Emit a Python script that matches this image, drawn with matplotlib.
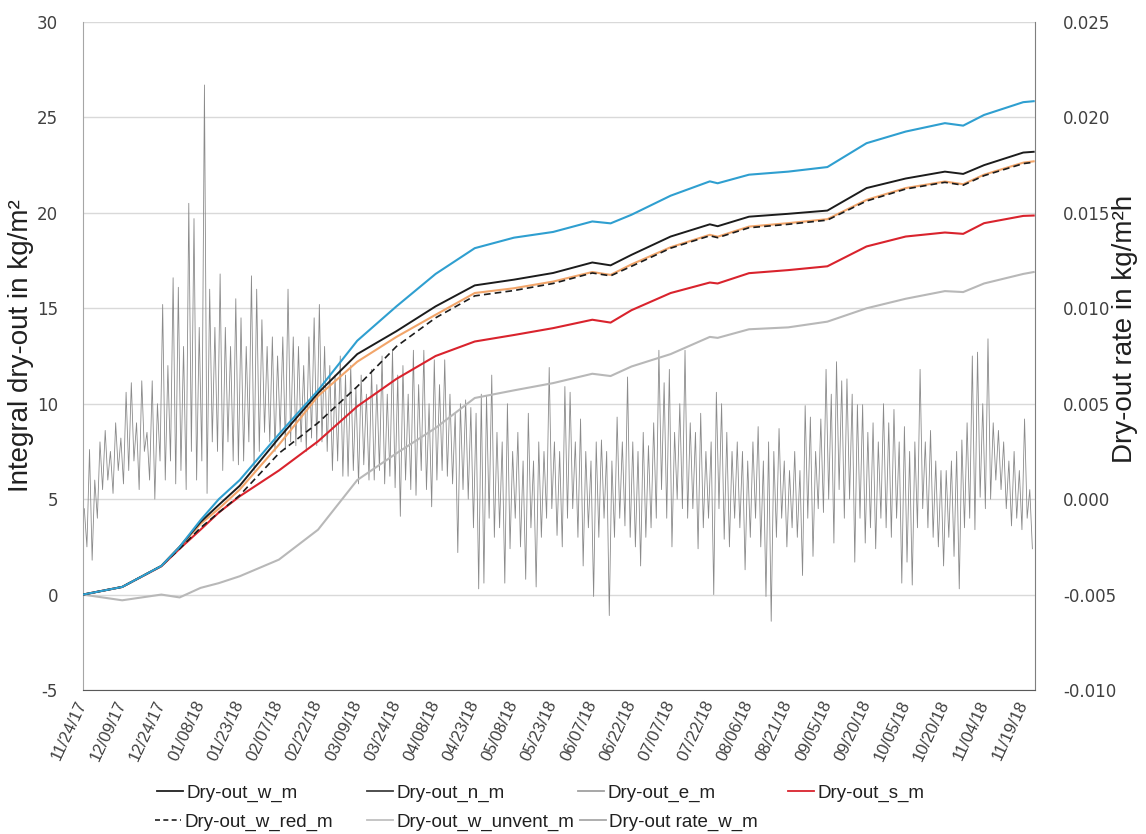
import matplotlib
matplotlib.use("Agg")
import matplotlib.pyplot as plt
import matplotlib.dates as mdates
from matplotlib.lines import Line2D
from datetime import datetime, timedelta

# ---------------------------------------------------------------- data
start = datetime(2017, 11, 24)
tick_labels = [(start + timedelta(days=15 * k)).strftime("%m/%d/%y") for k in range(25)]

# days since start for the integral dry-out curves
days = [0, 15, 30, 37, 45, 52, 60, 75, 90, 105, 120, 135, 150, 165, 180, 195,
        202, 210, 225, 240, 243, 255, 270, 285, 300, 315, 330, 337, 345, 360, 364]

# integral dry-out in kg/m²
dry_w = [0, 0.4, 1.5, 2.5, 3.8, 4.7, 5.7, 8.2, 10.56, 12.6, 13.8, 15.1, 16.2, 16.5,
         16.85, 17.4, 17.25, 17.8, 18.76, 19.4, 19.3, 19.8, 19.95, 20.12, 21.3, 21.8,
         22.16, 22.04, 22.5, 23.16, 23.2]
dry_n = [0, 0.4, 1.5, 2.5, 3.9, 5.0, 6.0, 8.4, 10.7, 13.3, 15.1, 16.8, 18.15, 18.7,
         19.0, 19.55, 19.45, 19.9, 20.9, 21.65, 21.55, 22.0, 22.16, 22.4, 23.65, 24.26,
         24.7, 24.57, 25.13, 25.8, 25.85]
dry_e = [0, 0.4, 1.5, 2.5, 3.7, 4.5, 5.5, 7.85, 10.4, 12.2, 13.5, 14.66, 15.8, 16.05,
         16.4, 16.9, 16.75, 17.3, 18.2, 18.85, 18.75, 19.28, 19.46, 19.67, 20.68, 21.3,
         21.64, 21.5, 22.0, 22.63, 22.7]
dry_s = [0, 0.4, 1.48, 2.4, 3.4, 4.3, 5.15, 6.5, 8.03, 9.86, 11.3, 12.5, 13.26, 13.6,
         13.96, 14.4, 14.25, 14.9, 15.8, 16.35, 16.3, 16.84, 17.0, 17.2, 18.24, 18.76,
         18.97, 18.9, 19.46, 19.84, 19.86]
dry_w_red = [0, 0.4, 1.5, 2.4, 3.5, 4.3, 5.2, 7.4, 9.0, 10.9, 13.0, 14.5, 15.65, 15.93,
             16.3, 16.85, 16.7, 17.2, 18.15, 18.8, 18.7, 19.22, 19.4, 19.62, 20.62, 21.25,
             21.6, 21.45, 21.95, 22.58, 22.65]
dry_w_unvent = [0, -0.3, 0.0, -0.15, 0.35, 0.6, 0.96, 1.83, 3.4, 6.0, 7.4, 8.73, 10.3,
                10.7, 11.08, 11.57, 11.45, 11.95, 12.6, 13.5, 13.45, 13.9, 14.0, 14.3,
                15.0, 15.5, 15.9, 15.85, 16.3, 16.8, 16.9]

# dry-out rate of w_m, two-day highs and lows in 1e-3 kg/m²h
rate_hi = [-0.5, 2.6, 1.0, 3.0, 3.6, 2.5, 4.0, 3.2, 5.6, 6.1,
           4.0, 6.2, 3.5, 6.2, 5.0, 10.2, 7.0, 11.6, 11.1, 8.0,
           15.5, 14.7, 9.0, 21.7, 11.0, 9.0, 11.8, 9.0, 8.0, 10.5,
           9.5, 8.0, 11.7, 11.0, 9.4, 8.0, 8.5, 7.5, 8.5, 11.0,
           8.5, 8.0, 7.0, 8.5, 9.5, 10.2, 8.0, 7.0, 6.5, 7.5,
           6.5, 7.0, 5.8, 6.5, 5.5, 6.8, 6.0, 7.5, 5.5, 7.8,
           6.5, 7.0, 5.5, 7.8, 6.0, 7.8, 5.0, 7.3, 6.0, 7.3,
           5.5, 4.5, 5.0, 5.2, 4.8, 4.5, 5.5, 5.4, 6.5, 3.5,
           3.0, 5.0, 2.5, 3.5, 2.0, 4.5, 2.0, 3.0, 2.5, 6.9,
           3.0, 2.5, 5.9, 5.6, 3.0, 4.2, 2.5, 2.0, 3.0, 3.1,
           2.5, 2.0, 4.3, 3.0, 6.4, 3.0, 2.5, 3.5, 2.8, 4.0,
           7.8, 6.1, 6.8, 3.5, 5.0, 7.8, 4.0, 3.5, 4.5, 2.5,
           3.0, 5.6, 5.0, 3.5, 2.5, 3.0, 2.5, 2.0, 3.0, 3.8,
           2.0, 3.0, 2.5, 3.7, 2.0, 1.5, 2.5, 1.5, 4.9, 4.3,
           2.5, 4.2, 6.8, 5.5, 7.2, 6.2, 6.3, 5.5, 4.95, 4.95,
           3.5, 4.0, 3.0, 5.0, 4.0, 4.7, 3.0, 3.8, 2.5, 3.0,
           6.8, 3.0, 3.6, 2.0, 1.5, 1.5, 2.0, 2.5, 3.1, 4.0,
           7.5, 7.7, 5.0, 8.4, 4.0, 3.6, 3.0, 2.0, 2.5, 1.5,
           4.2, 0.5]
rate_lo = [-2.5, -3.2, -1.0, 0.5, 1.0, 0.3, 1.5, 0.8, 1.5, 2.0,
           0.5, 2.5, 1.0, 0.0, 2.0, 1.0, 2.0, 0.8, 1.5, 0.5,
           2.5, 1.0, 2.0, 0.3, 3.0, 2.5, 1.5, 3.0, 2.0, 1.8,
           2.0, 3.0, 1.5, 2.5, 3.5, 3.0, 2.5, 3.5, 2.6, 3.0,
           2.8, 3.0, 2.5, 3.2, 2.8, 3.0, 2.5, 1.5, 2.0, 1.2,
           1.2, 1.5, 0.8, 1.8, 1.0, 1.0, 1.5, 0.8, 1.2, 0.6,
           -0.9, 1.0, 0.5, 0.2, 1.5, 0.5, -0.4, 1.0, 1.5, 1.2,
           0.8, -2.8, 0.5, 0.0, -1.5, -4.7, -4.4, -1.0, -2.0, -1.5,
           -4.4, -2.6, -1.0, -2.5, -4.2, -1.5, -4.6, -2.0, -1.0, -0.5,
           -1.9, -2.5, -1.0, -0.5, -2.0, -3.5, -1.5, -5.1, -2.0, -1.0,
           -6.1, -2.0, -1.0, -1.4, -2.0, -2.5, -3.5, -2.0, -1.5, -1.0,
           0.5, -1.0, -2.5, 0.0, -0.5, -1.0, -0.5, -2.6, -1.5, -1.0,
           -5.0, -0.5, -2.1, -2.5, -1.0, -1.5, -3.7, -2.0, -1.0, -2.5,
           -5.1, -6.4, -2.0, -1.0, -2.5, -1.5, -2.0, -4.0, -1.0, -3.0,
           -0.5, -0.7, 0.0, -2.3, 0.5, -1.0, 0.0, -3.3, -1.0, -2.3,
           -1.5, -2.6, -1.0, -1.5, -2.0, -1.0, -4.4, -3.3, -4.5, -1.5,
           -0.5, -1.5, -2.0, -2.5, -3.5, -2.0, -3.0, -4.7, -1.5, -1.0,
           -1.6, 0.1, -0.5, 0.0, 1.0, 0.5, -0.5, -1.4, -1.0, -1.6,
           -1.0, -2.6]

# ---------------------------------------------------------------- style
TEXT_FONT = ["Liberation Sans", "DejaVu Sans"]
NUM_FONT = ["DejaVu Sans"]
plt.rcParams["font.family"] = TEXT_FONT

C_W = "#1c1c1c"
C_N = "#2f9fd0"
C_E = "#f2a56a"
C_S = "#d9232d"
C_UNVENT = "#b8b8b8"
C_RATE = "#8a8a8a"
C_GRID = "#d9d9d9"

W, H = 1146, 834
fig = plt.figure(figsize=(W / 100, H / 100), dpi=100)
fig.patch.set_facecolor("white")
ax = fig.add_axes([83 / W, 144 / H, 952 / W, 668 / H])
ax2 = ax.twinx()

t0 = mdates.date2num(start)
x_days = [t0 + d for d in days]

# rate zig-zag: high then low within each two-day step
rate_x, rate_y = [], []
for i, (hi, lo) in enumerate(zip(rate_hi, rate_lo)):
    rate_x += [t0 + 2 * i + 0.5, t0 + 2 * i + 1.5]
    rate_y += [hi * 1e-3, lo * 1e-3]

ax2.plot(rate_x, rate_y, color=C_RATE, lw=0.6, zorder=2)

ax.plot(x_days, dry_w_unvent, color=C_UNVENT, lw=1.5, zorder=3)
ax.plot(x_days, dry_s, color=C_S, lw=1.5, zorder=4)
ax.plot(x_days, dry_e, color=C_E, lw=1.5, zorder=4)
ax.plot(x_days, dry_w_red, color=C_W, lw=1.2, ls=(0, (4, 2.5)), zorder=5)
ax.plot(x_days, dry_w, color=C_W, lw=1.4, zorder=5)
ax.plot(x_days, dry_n, color=C_N, lw=1.5, zorder=5)

# left axis drawn above the rate axis
ax.set_zorder(ax2.get_zorder() + 1)
ax.patch.set_visible(False)
ax2.patch.set_visible(True)
ax2.patch.set_facecolor("white")

ax.set_xlim(t0, t0 + 364.5)
ax.set_ylim(-5, 30)
ax2.set_ylim(-0.010, 0.025)

xt = [t0 + 15 * k for k in range(25)]
ax.set_xticks(xt)
ax.set_xticklabels(tick_labels, rotation=65, ha="right", va="center",
                   rotation_mode="anchor", fontsize=12, family=TEXT_FONT)
ax.set_yticks(range(-5, 31, 5))
ax.set_yticklabels([str(v) for v in range(-5, 31, 5)], fontsize=12, family=NUM_FONT)
r_ticks = [-0.010, -0.005, 0.0, 0.005, 0.010, 0.015, 0.020, 0.025]
ax2.set_yticks(r_ticks)
ax2.set_yticklabels([f"{v:.3f}" for v in r_ticks], fontsize=12, family=NUM_FONT)

ax.tick_params(axis="x", length=0, pad=8, colors="#404040")
ax.tick_params(axis="y", length=0, pad=18, colors="#404040")
ax2.tick_params(axis="y", length=0, pad=20, colors="#404040")

# grid on the back axes
ax.grid(False)
ax2.grid(True, axis="y", color=C_GRID, lw=1.0)
ax2.xaxis.grid(True, color=C_GRID, lw=1.0)
ax2.set_axisbelow(True)

for a in (ax, ax2):
    a.spines["top"].set_visible(False)
ax.spines["left"].set_color("#a6a6a6")
ax.spines["bottom"].set_color("#595959")
ax.spines["right"].set_visible(False)
ax2.spines["left"].set_visible(False)
ax2.spines["bottom"].set_visible(False)
ax2.spines["right"].set_color("#7f7f7f")

ax.set_ylabel("Integral dry-out in kg/m²", fontsize=20, color="#202020")
ax.yaxis.set_label_coords(-0.051, 0.515)
ax2.set_ylabel("Dry-out rate in kg/m²h", fontsize=20, color="#202020")
ax2.yaxis.set_label_coords(1.081, 0.54)

# ---------------------------------------------------------------- legend
legend_items = [
    (Line2D([], [], color="#202020", lw=1.3), "Dry-out_w_m", 157, 793),
    (Line2D([], [], color="#404040", lw=1.3), "Dry-out_n_m", 367, 793),
    (Line2D([], [], color="#a0a0a0", lw=1.3), "Dry-out_e_m", 578, 793),
    (Line2D([], [], color=C_S, lw=1.3), "Dry-out_s_m", 788, 793),
    (Line2D([], [], color="#202020", lw=1.2, ls=(0, (3, 2))), "Dry-out_w_red_m", 155, 822),
    (Line2D([], [], color="#c0c0c0", lw=1.3), "Dry-out_w_unvent_m", 367, 822),
    (Line2D([], [], color="#a8a8a8", lw=1.3), "Dry-out rate_w_m", 580, 822),
]
for handle, label, px, py in legend_items:
    fig.legend([handle], [label], loc="center left",
               bbox_to_anchor=(px / W, 1 - py / H), frameon=False,
               fontsize=13.5, handlelength=1.4, handletextpad=0.15,
               borderpad=0, borderaxespad=0, labelcolor="#202020")

fig.savefig("out.png", dpi=100, facecolor="white")
